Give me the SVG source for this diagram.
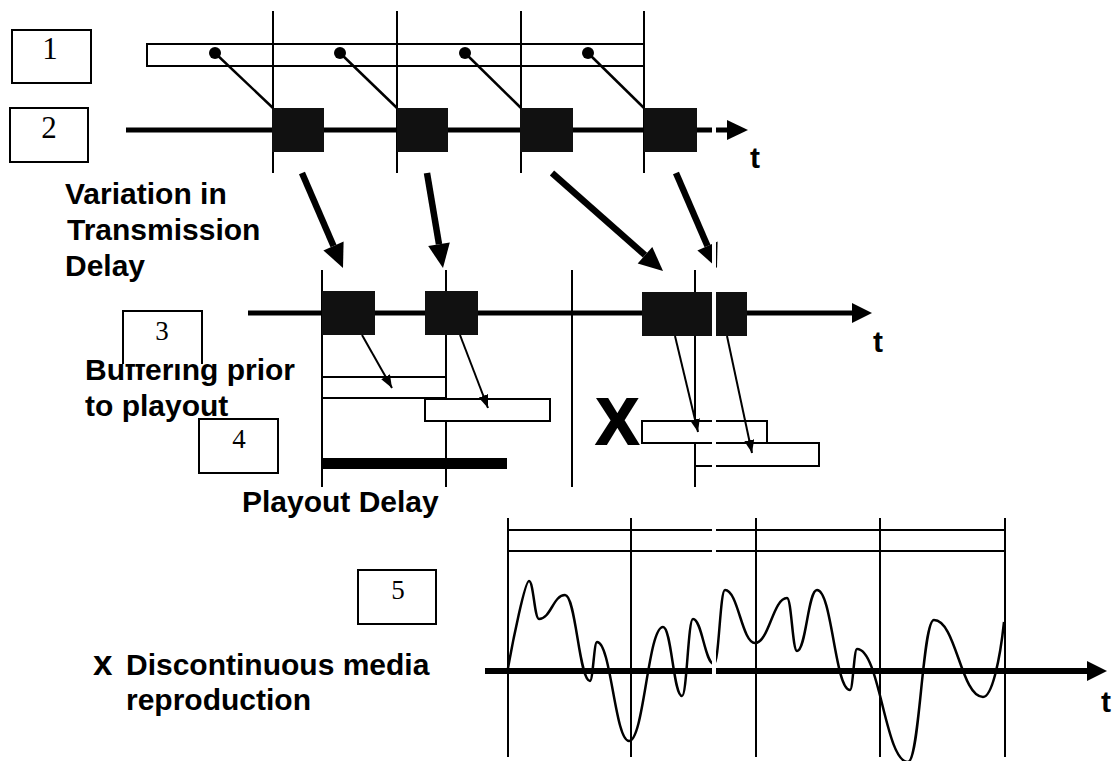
<svg xmlns="http://www.w3.org/2000/svg" width="1113" height="761" viewBox="0 0 1113 761">
<defs>
<style>
.box{fill:#fff;stroke:#000;stroke-width:2}
.num{font-family:"Liberation Serif","Times New Roman",serif;font-size:31px;text-anchor:middle;fill:#000}
.num2{font-family:"Liberation Serif","Times New Roman",serif;font-size:27px;text-anchor:middle;fill:#000}
.lbl{font-family:"Liberation Sans",Arial,sans-serif;font-weight:bold;font-size:30px;fill:#000}
.vl{stroke:#000;stroke-width:2;fill:none}
.axis{stroke:#000;stroke-width:5;fill:none}
.pkt{fill:#111}
.bar{fill:#fff;stroke:#000;stroke-width:2}
.thick{stroke:#000;stroke-width:6.5;fill:none}
.head{fill:#000}
.thin{stroke:#000;stroke-width:2;fill:none;marker-end:url(#ah)}
.dotln{stroke:#000;stroke-width:2.5;fill:none}
.wave{stroke:#000;stroke-width:2.5;fill:none}
</style>
<marker id="ah" viewBox="0 0 13 10" refX="13" refY="5" markerWidth="13" markerHeight="10" markerUnits="userSpaceOnUse" orient="auto"><path d="M0,0 L13,5 L0,10 z" fill="#000"/></marker>
</defs>
<rect width="1113" height="761" fill="#fff"/>

<!-- Top section: sender timeline -->
<g id="sender-track">
<rect class="bar" x="147" y="44" width="497" height="22"/>
<line class="vl" x1="273" y1="11" x2="273" y2="173"/>
<line class="vl" x1="397" y1="11" x2="397" y2="173"/>
<line class="vl" x1="521" y1="11" x2="521" y2="173"/>
<line class="vl" x1="644" y1="11" x2="644" y2="173"/>
<line class="axis" x1="126" y1="130" x2="729" y2="130"/>
<polygon class="head" points="727,120 748,130 727,140"/>
<text class="lbl" x="750" y="168">t</text>
</g>
<g id="sent-packets">
<rect class="pkt" x="272" y="108" width="52" height="44"/>
<rect class="pkt" x="397" y="108" width="51" height="44"/>
<rect class="pkt" x="520" y="108" width="53" height="44"/>
<rect class="pkt" x="644" y="108" width="53" height="44"/>
<circle cx="215" cy="53" r="6"/>
<circle cx="340" cy="53" r="6"/>
<circle cx="465" cy="53" r="6"/>
<circle cx="588" cy="53" r="6"/>
</g>
<g id="box1"><rect class="box" x="12" y="30" width="79" height="53"/><text class="num" x="50" y="59">1</text></g>
<g id="box2"><rect class="box" x="10" y="108" width="78" height="54"/><text class="num" x="49" y="138">2</text></g>

<!-- Middle section: receiver timeline -->
<g id="receiver-track">
<line class="vl" x1="322" y1="270" x2="322" y2="487"/>
<line class="vl" x1="446" y1="270" x2="446" y2="487"/>
<line class="vl" x1="572" y1="270" x2="572" y2="487"/>
<line class="vl" x1="695" y1="270" x2="695" y2="487"/>
<line class="axis" x1="248" y1="313" x2="854" y2="313"/>
<polygon class="head" points="852,303 872,313 852,323"/>
<text class="lbl" x="873" y="352">t</text>
</g>
<g id="received-packets">
<rect class="pkt" x="322" y="291" width="53" height="44"/>
<rect class="pkt" x="425" y="291" width="53" height="44"/>
<rect class="pkt" x="642" y="292" width="105" height="44"/>
</g>
<g id="buffers">
<rect class="bar" x="322" y="377" width="124" height="21"/>
<rect class="bar" x="425" y="399" width="125" height="22"/>
<rect class="bar" x="642" y="421" width="125" height="22"/>
<rect class="bar" x="695" y="443" width="124" height="23"/>
<rect x="322" y="458" width="185" height="11" fill="#000"/>
<text class="lbl" x="596" y="444" style="font-size:64px;stroke:#000;stroke-width:2">X</text>
</g>

<!-- Labels -->
<g id="label-variation">
<text class="lbl" x="65" y="204">Variation in</text>
<text class="lbl" x="67" y="240">Transmission</text>
<text class="lbl" x="65" y="276">Delay</text>
</g>
<g id="label-buffering">
<text class="lbl" x="85" y="380">Buffering prior</text>
<text class="lbl" x="85" y="416">to playout</text>
</g>
<g id="box3"><rect x="123" y="311" width="79" height="53" fill="#fff"/><path class="vl" d="M123,364 V311 H202 V364"/><text class="num2" x="162" y="340">3</text></g>
<g id="box4"><rect class="box" x="199" y="419" width="79" height="54"/><text class="num2" x="239" y="448">4</text></g>
<g id="label-playout"><text class="lbl" x="242" y="512">Playout Delay</text></g>

<!-- Bottom section: playout -->
<g id="playout-track">
<line class="vl" x1="508" y1="530" x2="1005" y2="530"/>
<line class="vl" x1="508" y1="551" x2="1005" y2="551"/>
<line class="vl" x1="508" y1="518" x2="508" y2="757"/>
<line class="vl" x1="631" y1="518" x2="631" y2="757"/>
<line class="vl" x1="756" y1="518" x2="756" y2="757"/>
<line class="vl" x1="880" y1="518" x2="880" y2="757"/>
<line class="vl" x1="1005" y1="518" x2="1005" y2="757"/>
<line class="axis" x1="485" y1="671" x2="1089" y2="671" style="stroke-width:6"/>
<polygon class="head" points="1087,661 1107,671 1087,681"/>
<text class="lbl" x="1101" y="712">t</text>
<path class="wave" d="M508,668 C513,640 525,581 529,581 C533.5,581 534.5,619 539,619 C550.7,619 553.3,595 565,595 C576,595 579,681 590,681 C593,681 594,642 597,642 C611,642 615,741 629,741 C644,741 648,627 663,627 C671.5,627 673.5,696 682,696 C687,696 688,619 693,619 C702,619 705,664 714,664 C719,664 720,590 725,590 C738,590 742,643 755,643 C769,643 773,598 787,598 C791.5,598 792.5,651 797,651 C806,651 808,590 817,590 C832,590 835,690 850,690 C853,690 854,649 857,649 C880,649 885,762 908,762 C919.7,762 922.3,620 934,620 C956,620 961,697 983,697 C992,697 1000,660 1004,622"/>
</g>
<g id="box5"><rect class="box" x="358" y="570" width="78" height="54"/><text class="num2" x="398" y="599">5</text></g>
<g id="label-discontinuous">
<text class="lbl" x="93" y="675" style="font-size:35px">x</text>
<text class="lbl" x="126" y="675">Discontinuous media</text>
<text class="lbl" x="126" y="710">reproduction</text>
</g>

<!-- Connectors -->
<g id="connectors">
<line class="dotln" x1="215" y1="53" x2="273" y2="108"/>
<line class="dotln" x1="340" y1="53" x2="397" y2="108"/>
<line class="dotln" x1="465" y1="53" x2="521" y2="108"/>
<line class="dotln" x1="588" y1="53" x2="644" y2="108"/>
<line class="thick" x1="302" y1="173" x2="333.5" y2="246"/>
<polygon class="head" points="323.4,250.4 343.6,241.6 343,268"/>
<line class="thick" x1="427" y1="173" x2="439" y2="244.3"/>
<polygon class="head" points="428.2,246.1 449.8,242.5 443,268"/>
<line class="thick" x1="552" y1="173" x2="645" y2="255.1"/>
<polygon class="head" points="637.7,263.4 652.3,246.9 663,271"/>
<line class="thick" x1="676" y1="173" x2="707.5" y2="246"/>
<polygon class="head" points="697.4,250.4 717.6,241.6 717,268"/>
<line class="thin" x1="362" y1="335" x2="392" y2="388"/>
<line class="thin" x1="460" y1="335" x2="488" y2="408"/>
<line class="thin" x1="675" y1="336" x2="698" y2="432"/>
<line class="thin" x1="727" y1="336" x2="752" y2="453"/>
</g>

<!-- white seam across the picture -->
<rect x="712" y="0" width="4" height="761" fill="#fff"/>
</svg>
